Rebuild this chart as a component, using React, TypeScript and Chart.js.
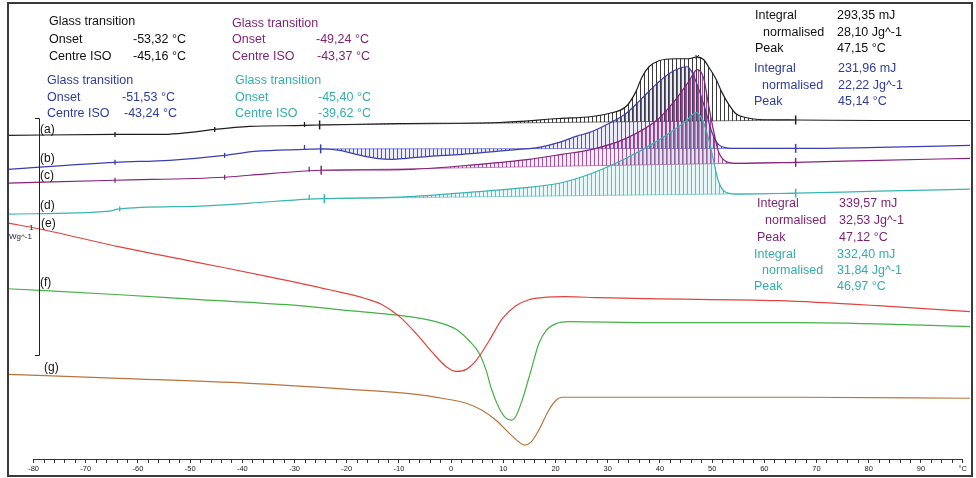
import React, { useEffect, useRef } from 'react';
import { Chart, registerables } from 'chart.js';

Chart.register(...registerables);

// x: temperature (°C); y: heat flow, offset traces (arbitrary units)
const X_MIN = -84.9;
const X_MAX = 99.4;
const Y_MIN = 0;
const Y_MAX = 45.5;
const X_TICK_LABELS = [-80, -70, -60, -50, -40, -30, -20, -10, 0, 10, 20, 30, 40, 50, 60, 70, 80, 90];
const X_UNIT_TICK = 98;

// (a) black
const curveA: [number, number][] = [
  [-84.9, 32.5], [-64.4, 32.6], [-55.0, 32.6], [-50.0, 32.8], [-45.3, 33.1], [-38.6, 33.4], [-28.1, 33.5],
  [-25.2, 33.55], [-9.9, 33.7], [9.2, 33.8], [20.7, 34.2], [27.0, 34.4], [30.2, 34.7],
  [33.5, 35.4], [35.4, 36.9], [36.5, 38.3], [37.9, 39.4], [39.8, 40.0], [43.0, 40.2],
  [45.5, 40.2], [47.15, 40.4], [48.4, 40.1], [49.3, 39.4], [50.7, 38.2], [51.8, 36.9],
  [53.2, 35.6], [54.5, 34.7], [56.4, 34.3], [58.9, 34.1], [66.0, 34.05], [81.8, 34.0], [99.4, 34.0],
];
const baseA: [number, number][] = [[-25.2, 33.55], [66.0, 34.05]];
const marksA: [number, number][] = [[-64.4, 32.6], [-45.3, 33.1], [-28.1, 33.6]];
const limitsA: [number, number][] = [[-25.2, 33.55], [66.0, 34.05]];
const peakA: [number, number][] = [[47.15, 40.4]];

// (b) blue
const curveB: [number, number][] = [
  [-84.9, 29.1], [-64.4, 29.8], [-53.9, 30.0], [-43.4, 30.5], [-37.7, 30.9], [-28.1, 31.1],
  [-25.0, 31.15], [-21.4, 31.0], [-18.2, 30.6], [-14.3, 30.2], [-11.3, 30.1], [-8.6, 30.2],
  [-4.2, 30.4], [2.1, 30.6], [8.6, 30.9], [13.0, 31.1], [16.8, 31.3], [20.7, 31.8],
  [23.9, 32.4], [27.0, 32.9], [30.2, 33.7], [33.5, 34.7], [36.5, 36.2], [39.2, 37.6],
  [41.7, 38.7], [44.0, 39.3], [45.14, 39.4], [46.1, 38.9], [47.4, 37.2], [48.8, 34.9],
  [49.9, 32.9], [51.2, 31.6], [53.7, 31.2], [58.9, 31.2], [66.0, 31.2], [81.8, 31.3], [99.4, 31.5],
];
const baseB: [number, number][] = [[-25.0, 31.15], [66.0, 31.2]];
const marksB: [number, number][] = [[-64.4, 29.8], [-43.4, 30.5], [-28.1, 31.3]];
const limitsB: [number, number][] = [[-25.0, 31.15], [66.0, 31.2]];

// (c) purple
const curveC: [number, number][] = [
  [-84.9, 27.7], [-64.4, 28.0], [-43.4, 28.3], [-38.6, 28.5], [-27.2, 28.95], [-24.9, 29.0],
  [-7.5, 29.1], [5.4, 29.6], [14.9, 30.1], [21.2, 30.6], [27.0, 31.1], [33.5, 32.2],
  [39.8, 34.2], [43.0, 36.1], [45.5, 37.9], [47.12, 39.1], [48.4, 38.2], [49.3, 35.6],
  [50.3, 32.9], [51.2, 30.9], [52.6, 29.9], [54.5, 29.7], [66.0, 29.8], [81.8, 30.0], [99.4, 30.2],
];
const baseC: [number, number][] = [[-24.9, 29.0], [66.0, 29.8]];
const marksC: [number, number][] = [[-64.4, 28.0], [-43.4, 28.3], [-27.2, 29.1]];
const limitsC: [number, number][] = [[-24.9, 29.0], [66.0, 29.8]];

// (d) cyan
const curveD: [number, number][] = [
  [-84.9, 24.6], [-65.4, 24.9], [-63.9, 25.1], [-48.2, 25.4], [-38.6, 25.7], [-27.2, 26.1],
  [-24.3, 26.15], [-9.9, 26.3], [1.5, 26.7], [13.0, 27.2], [20.7, 27.7], [27.0, 28.7],
  [33.5, 30.2], [38.4, 31.6], [41.7, 32.7], [44.9, 33.9], [46.97, 34.8], [48.0, 34.2],
  [49.3, 32.2], [50.3, 29.9], [51.2, 27.9], [52.6, 26.8], [55.1, 26.6], [66.0, 26.7], [81.8, 26.9], [99.4, 27.1],
];
const baseD: [number, number][] = [[-24.3, 26.15], [66.0, 26.7]];
const marksD: [number, number][] = [[-63.5, 25.1], [-27.2, 26.3]];
const limitsD: [number, number][] = [[-24.3, 26.15], [66.0, 26.7]];

// (e) red
const curveE: [number, number][] = [
  [-84.9, 23.7], [-78.8, 23.1], [-63.5, 21.3], [-48.2, 19.7], [-34.8, 18.3], [-23.3, 17.0],
  [-16.3, 16.1], [-13.2, 15.5], [-9.9, 14.3], [-6.7, 12.6], [-3.6, 10.7], [-1.0, 9.3],
  [1.0, 8.8], [2.9, 9.0], [4.8, 9.9], [7.3, 11.9], [9.8, 14.1], [12.4, 15.4], [14.9, 16.0],
  [17.4, 16.2], [22.0, 16.3], [28.3, 16.2], [37.9, 16.1], [62.7, 15.9], [81.8, 15.4], [99.4, 14.8],
];

// (f) green
const curveF: [number, number][] = [
  [-84.9, 17.1], [-63.5, 16.5], [-48.2, 16.0], [-29.1, 15.4], [-19.5, 14.9], [-13.2, 14.6],
  [-6.7, 14.2], [-2.3, 13.7], [1.0, 13.0], [3.4, 11.9], [5.4, 10.6], [6.7, 8.9], [7.8, 6.9],
  [9.2, 5.1], [10.5, 4.1], [11.5, 3.9], [12.4, 4.3], [13.6, 5.9], [15.3, 8.9], [16.8, 11.6],
  [18.2, 12.9], [20.1, 13.6], [22.6, 13.8], [37.9, 13.7], [66.5, 13.7], [99.4, 13.3],
];

// (g) brown
const curveG: [number, number][] = [
  [-84.9, 8.5], [-63.5, 8.1], [-38.6, 7.6], [-19.5, 7.0], [-6.7, 6.5], [-1.7, 6.1], [2.9, 5.6],
  [5.9, 4.9], [8.6, 3.9], [11.1, 2.6], [13.0, 1.7], [14.0, 1.4], [15.3, 1.7], [16.8, 2.9],
  [18.7, 4.9], [20.1, 5.9], [21.2, 6.2], [25.0, 6.2], [66.5, 6.2], [99.4, 6.1],
];

const CURVE_LABELS = ['(a)', '(b)', '(c)', '(d)', '(e)', '(f)', '(g)'];

const C_BLACK = '#1e1e1e';
const C_BLUE = '#3a3fae';
const C_PURPLE = '#86237b';
const C_CYAN = '#38b4b1';
const C_RED = '#e0443e';
const C_GREEN = '#45b045';
const C_BROWN = '#b8743c';

const T_BLACK = '#111111';
const T_BLUE = '#2f3c9c';
const T_PURPLE = '#7e1f70';
const T_CYAN = '#33aead';

type Txt = { t: string; x: number; y: number; c: string };

const TEXTS: Txt[] = [
  // glass transition blocks
  { t: 'Glass transition', x: 49, y: 22, c: T_BLACK },
  { t: 'Onset', x: 49, y: 40, c: T_BLACK },
  { t: '-53,32 °C', x: 133, y: 40, c: T_BLACK },
  { t: 'Centre ISO', x: 49, y: 57, c: T_BLACK },
  { t: '-45,16 °C', x: 133, y: 57, c: T_BLACK },

  { t: 'Glass transition', x: 232, y: 24, c: T_PURPLE },
  { t: 'Onset', x: 232, y: 40, c: T_PURPLE },
  { t: '-49,24 °C', x: 316, y: 40, c: T_PURPLE },
  { t: 'Centre ISO', x: 232, y: 57, c: T_PURPLE },
  { t: '-43,37 °C', x: 317, y: 57, c: T_PURPLE },

  { t: 'Glass transition', x: 47, y: 81, c: T_BLUE },
  { t: 'Onset', x: 47, y: 98, c: T_BLUE },
  { t: '-51,53 °C', x: 122, y: 98, c: T_BLUE },
  { t: 'Centre ISO', x: 47, y: 114, c: T_BLUE },
  { t: '-43,24 °C', x: 124, y: 114, c: T_BLUE },

  { t: 'Glass transition', x: 235, y: 81, c: T_CYAN },
  { t: 'Onset', x: 235, y: 98, c: T_CYAN },
  { t: '-45,40 °C', x: 318, y: 98, c: T_CYAN },
  { t: 'Centre ISO', x: 235, y: 114, c: T_CYAN },
  { t: '-39,62 °C', x: 318, y: 114, c: T_CYAN },

  // integral blocks
  { t: 'Integral', x: 755, y: 16, c: T_BLACK },
  { t: 'normalised', x: 763, y: 33, c: T_BLACK },
  { t: 'Peak', x: 755, y: 49, c: T_BLACK },
  { t: '293,35 mJ', x: 837, y: 16, c: T_BLACK },
  { t: '28,10 Jg^-1', x: 837, y: 33, c: T_BLACK },
  { t: '47,15 °C', x: 837, y: 49, c: T_BLACK },

  { t: 'Integral', x: 754, y: 69, c: T_BLUE },
  { t: 'normalised', x: 762, y: 86, c: T_BLUE },
  { t: 'Peak', x: 754, y: 102, c: T_BLUE },
  { t: '231,96 mJ', x: 838, y: 69, c: T_BLUE },
  { t: '22,22 Jg^-1', x: 838, y: 86, c: T_BLUE },
  { t: '45,14 °C', x: 838, y: 102, c: T_BLUE },

  { t: 'Integral', x: 757, y: 204, c: T_PURPLE },
  { t: 'normalised', x: 765, y: 221, c: T_PURPLE },
  { t: 'Peak', x: 757, y: 238, c: T_PURPLE },
  { t: '339,57 mJ', x: 839, y: 204, c: T_PURPLE },
  { t: '32,53 Jg^-1', x: 839, y: 221, c: T_PURPLE },
  { t: '47,12 °C', x: 839, y: 238, c: T_PURPLE },

  { t: 'Integral', x: 754, y: 255, c: T_CYAN },
  { t: 'normalised', x: 762, y: 271, c: T_CYAN },
  { t: 'Peak', x: 754, y: 287, c: T_CYAN },
  { t: '332,40 mJ', x: 837, y: 255, c: T_CYAN },
  { t: '31,84 Jg^-1', x: 837, y: 271, c: T_CYAN },
  { t: '46,97 °C', x: 837, y: 287, c: T_CYAN },
];

const LABEL_POS: [number, number][] = [[40, 130], [40, 159], [40, 176], [40, 206], [41, 224], [40, 283], [44, 368]];

const FONT = '"Liberation Sans", Arial, sans-serif';

function makePattern(line: string, tint: string, offset: number): CanvasPattern | string {
  const c = document.createElement('canvas');
  c.width = 4;
  c.height = 4;
  const g = c.getContext('2d');
  if (!g) return line;
  if (tint) {
    g.fillStyle = tint;
    g.fillRect(0, 0, 4, 4);
  }
  g.fillStyle = line;
  g.fillRect(offset, 0, 1, 4);
  return g.createPattern(c, 'repeat') || line;
}

const toXY = (arr: [number, number][]) => arr.map(([x, y]) => ({ x, y }));

const decorPlugin = {
  id: 'decor',
  afterDraw(chart: any) {
    const ctx: CanvasRenderingContext2D = chart.ctx;
    const xs = chart.scales.x;
    const area = chart.chartArea;
    ctx.save();
    // ruler line
    ctx.strokeStyle = '#333';
    ctx.lineWidth = 1;
    ctx.beginPath();
    const ry = Math.round(area.bottom) + 0.5;
    ctx.moveTo(xs.getPixelForValue(-80), ry);
    ctx.lineTo(xs.getPixelForValue(X_UNIT_TICK), ry);
    ctx.stroke();

    // scale bar
    ctx.strokeStyle = '#222';
    ctx.beginPath();
    ctx.moveTo(35, 118.5);
    ctx.lineTo(39.5, 118.5);
    ctx.lineTo(39.5, 355.5);
    ctx.lineTo(35, 355.5);
    ctx.stroke();
    ctx.fillStyle = '#222';
    ctx.font = `8px ${FONT}`;
    ctx.textBaseline = 'middle';
    ctx.textAlign = 'left';
    ctx.fillText('1', 29, 228);
    ctx.fillText('Wg^-1', 9, 237);

    // curve labels
    ctx.font = `12px ${FONT}`;
    ctx.fillStyle = '#111';
    CURVE_LABELS.forEach((l, i) => {
      ctx.fillText(l, LABEL_POS[i][0], LABEL_POS[i][1]);
    });

    // annotation texts
    ctx.font = `12.5px ${FONT}`;
    TEXTS.forEach((t) => {
      ctx.fillStyle = t.c;
      ctx.fillText(t.t, t.x, t.y);
    });

    // frame
    ctx.strokeStyle = '#3a3a3a';
    ctx.lineWidth = 2;
    ctx.strokeRect(8, 3, 964, 473);
    ctx.restore();
  },
};

export default function App() {
  const ref = useRef<HTMLCanvasElement>(null);

  useEffect(() => {
    const canvas = ref.current;
    if (!canvas) return;

    const groups = [
      { curve: curveA, base: baseA, marks: marksA, limits: limitsA, color: C_BLACK, hatch: 'rgba(25,25,25,0.85)', tint: '', off: 0, order: 4 },
      { curve: curveB, base: baseB, marks: marksB, limits: limitsB, color: C_BLUE, hatch: 'rgba(55,60,175,0.85)', tint: 'rgba(70,70,190,0.10)', off: 1, order: 3 },
      { curve: curveC, base: baseC, marks: marksC, limits: limitsC, color: C_PURPLE, hatch: 'rgba(135,35,125,0.75)', tint: 'rgba(150,60,140,0.10)', off: 2, order: 2 },
      { curve: curveD, base: baseD, marks: marksD, limits: limitsD, color: C_CYAN, hatch: 'rgba(50,175,175,0.75)', tint: 'rgba(60,185,185,0.12)', off: 3, order: 1 },
    ];

    const datasets: any[] = [];
    groups.forEach((g) => {
      const i = datasets.length;
      const pat = makePattern(g.hatch, g.tint, g.off);
      datasets.push({
        data: toXY(g.curve),
        borderColor: g.color,
        borderWidth: 1.2,
        pointRadius: 0,
        cubicInterpolationMode: 'monotone',
        fill: { target: i + 1, above: pat, below: pat },
        order: g.order,
      });
      datasets.push({
        data: toXY(g.base),
        borderColor: g.hatch,
        borderWidth: 0.7,
        pointRadius: 0,
        fill: false,
        order: g.order,
      });
      datasets.push({
        data: toXY(g.marks),
        showLine: false,
        pointStyle: 'line',
        pointRotation: 90,
        pointRadius: 2.5,
        pointBorderWidth: 1.3,
        pointBorderColor: g.color,
        borderColor: g.color,
        fill: false,
        order: g.order,
      });
      datasets.push({
        data: toXY(g.limits),
        showLine: false,
        pointStyle: 'line',
        pointRotation: 90,
        pointRadius: 4.5,
        pointBorderWidth: 1.5,
        pointBorderColor: g.color,
        borderColor: g.color,
        borderDash: [2, 1],
        fill: false,
        order: g.order,
      });
    });
    datasets.push({
      data: toXY(peakA),
      showLine: false,
      pointStyle: 'crossRot',
      pointRadius: 2.5,
      pointBorderWidth: 1,
      pointBorderColor: C_BLACK,
      fill: false,
      order: 0,
    });
    [
      { c: curveE, col: C_RED },
      { c: curveF, col: C_GREEN },
      { c: curveG, col: C_BROWN },
    ].forEach((s) => {
      datasets.push({
        data: toXY(s.c),
        borderColor: s.col,
        borderWidth: 1.2,
        pointRadius: 0,
        cubicInterpolationMode: 'monotone',
        fill: false,
        order: 0,
      });
    });

    const chart = new Chart(canvas, {
      type: 'line',
      data: { datasets },
      options: {
        animation: false,
        responsive: false,
        events: [],
        layout: { padding: { left: 8, right: 4, top: 4, bottom: 3 } },
        plugins: { legend: { display: false }, tooltip: { enabled: false } },
        scales: {
          x: {
            type: 'linear',
            min: X_MIN,
            max: X_MAX,
            border: { display: false },
            grid: {
              drawOnChartArea: false,
              drawTicks: true,
              tickLength: 4,
              tickWidth: 1,
              tickColor: (ctx: any) => (ctx.tick && ctx.tick.value < -80 ? 'rgba(0,0,0,0)' : '#333'),
            },
            ticks: {
              stepSize: 2,
              includeBounds: false,
              autoSkip: false,
              maxRotation: 0,
              minRotation: 0,
              padding: 1,
              color: '#222',
              font: { size: 7.5, family: FONT },
              callback: (value: any) => {
                const v = Math.round(Number(value));
                if (v === X_UNIT_TICK) return '°C';
                return X_TICK_LABELS.includes(v) ? String(v) : '';
              },
            },
            afterFit: (s: any) => {
              s.height = 16;
              s.paddingLeft = 0;
              s.paddingRight = 0;
            },
          },
          y: { type: 'linear', display: false, min: Y_MIN, max: Y_MAX },
        },
      },
      plugins: [decorPlugin],
    });

    return () => chart.destroy();
  }, []);

  return (
    <div style={{ position: 'absolute', left: 0, top: 0, width: 976, height: 478, background: '#fff' }}>
      <canvas ref={ref} width={976} height={478} style={{ display: 'block' }} />
    </div>
  );
}
